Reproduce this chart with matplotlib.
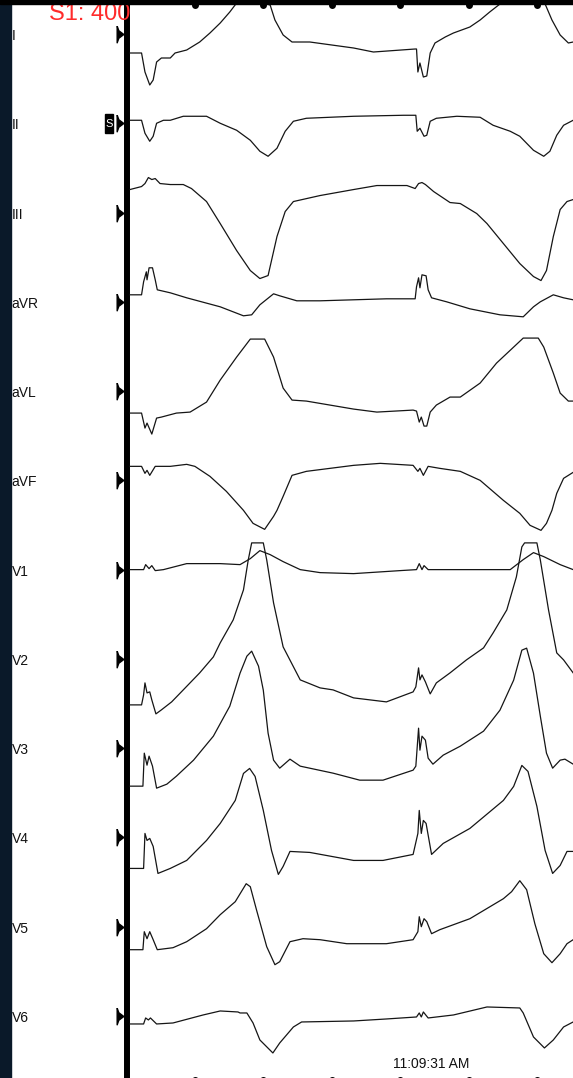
import numpy as np
import matplotlib
matplotlib.use('Agg')
from matplotlib import pyplot as plt
from matplotlib.path import Path
from matplotlib.patches import Rectangle

plt.rcParams['font.family'] = ['Liberation Sans', 'DejaVu Sans']

# 12-lead strip, top to bottom
leads = ['I', 'II', 'III', 'aVR', 'aVL', 'aVF', 'V1', 'V2', 'V3', 'V4', 'V5', 'V6']

# time in ms from sweep start, amplitude in screen units (up = positive)
t_I = [5,22,27,34,39,44,51,64,71,88,107,122,137,151,161,188,205,210,217,229,242,268,332,361,422,424,426,429,434,439,444,451,466,478,502,517,531,546,578,612,622,634,646,653]
a_I = [-19,-19,-38,-51,-46,-28,-24,-24,-19,-16,-8,1,11,22,31,38,30,29,14,-1,-8,-8,-14,-18,-15,-15,-38,-29,-43,-42,-19,-9,-3,1,7,14,22,30,38,30,14,-1,-9,-8]

t_II = [5,22,27,34,39,44,54,64,83,117,137,161,181,195,207,220,232,244,263,332,405,423,425,429,435,439,444,453,483,517,536,561,575,595,610,619,629,639,653]
a_II = [3,3,-10,-18,-13,0,3,3,7,7,0,-7,-17,-28,-33,-25,-8,2,5,7,8,8,-8,-5,-13,-12,2,5,7,6,-2,-8,-13,-27,-33,-28,-12,-2,3]

t_III = [5,22,27,32,37,42,49,64,83,95,117,137,161,181,195,207,220,232,244,283,332,366,410,422,427,432,437,449,473,488,512,527,551,575,595,606,614,624,634,644,653]
a_III = [23,26,29,35,33,34,29,28,28,24,11,-11,-38,-58,-66,-63,-24,1,11,17,23,27,27,24,29,30,28,21,10,9,-1,-11,-31,-51,-64,-68,-58,-24,3,11,13]

t_aVR = [5,22,25,29,30,33,38,42,45,64,88,137,171,183,195,215,224,249,283,380,422,424,427,429,432,438,441,446,468,502,546,580,595,605,624,639,653]
a_aVR = [7,7,20,30,22,34,34,22,12,9,4,-5,-14,-13,-3,8,6,1,1,3,3,15,24,14,27,26,12,4,0,-7,-13,-15,-5,0,7,4,2]

t_aVL = [5,22,27,30,37,44,51,73,93,117,137,161,181,202,215,229,242,263,332,366,419,424,428,431,435,439,444,453,473,488,517,541,566,580,602,610,624,634,646,653]
a_aVL = [-22,-22,-37,-32,-43,-27,-26,-22,-21,-11,11,34,52,52,34,3,-9,-10,-18,-21,-19,-20,-31,-26,-35,-35,-21,-14,-6,-6,8,28,44,53,53,44,18,-2,-10,-10]

t_aVF = [5,22,27,30,34,42,64,88,100,122,146,171,185,202,215,220,229,242,263,332,371,419,426,429,434,441,458,488,517,551,575,590,606,614,622,629,639,653]
a_aVF = [14,14,7,10,5,14,14,16,14,4,-11,-30,-43,-49,-36,-30,-16,5,9,15,17,15,9,12,5,14,12,9,0,-20,-33,-45,-50,-43,-30,-13,2,8]

t_V1 = [5,25,28,33,37,42,54,88,137,166,181,195,210,229,254,283,332,400,424,428,432,435,441,478,561,580,595,610,634,653]
a_V1 = [0,0,5,1,4,-1,0,6,6,5,11,19,15,8,0,-3,-4,-1,0,6,0,4,0,0,0,10,17,13,5,0]

t_V2 = [5,22,25,27,30,34,37,43,51,66,83,107,127,137,156,171,178,183,200,205,215,229,254,283,302,332,380,419,423,427,429,432,437,444,453,473,497,522,536,556,570,578,582,600,605,617,629,639,653]
a_V2 = [-46,-46,-36,-24,-34,-33,-41,-55,-51,-43,-31,-14,2,16,39,69,99,116,116,99,56,12,-21,-29,-31,-39,-43,-33,-28,-9,-21,-16,-23,-35,-24,-14,-1,11,26,49,82,112,116,116,99,49,6,-1,-14]

t_V3 = [5,24,26,30,33,38,44,59,73,98,127,151,166,176,183,193,200,207,215,224,239,254,302,341,375,419,423,427,429,432,437,441,448,463,488,522,546,566,578,585,595,605,614,623,634,641,653]
a_V3 = [-38,-38,-5,-17,-8,-18,-40,-36,-28,-12,12,42,75,92,97,82,58,15,-12,-20,-11,-18,-25,-32,-32,-22,-18,20,-2,12,8,-10,-16,-7,2,17,38,68,98,100,75,32,-5,-20,-12,-11,-16]

t_V4 = [5,25,27,30,34,39,46,64,88,117,137,159,171,180,188,200,212,222,229,239,268,332,375,419,426,428,431,434,438,446,463,502,551,566,578,587,600,612,623,634,644,653]
a_V4 = [-31,-31,4,-3,-1,-9,-36,-31,-23,-3,14,37,64,69,61,27,-13,-37,-29,-14,-15,-23,-23,-17,4,27,4,17,14,-17,-6,9,37,51,72,66,31,-13,-36,-28,-14,-14]

t_V5 = [5,24,26,30,34,39,45,68,88,117,137,159,175,181,190,205,217,224,239,258,283,322,380,419,426,428,431,435,439,446,458,502,551,563,575,585,597,610,622,634,644,653]
a_V5 = [-23,-23,-5,-12,-5,-13,-23,-21,-15,-2,12,25,43,40,17,-20,-38,-35,-15,-12,-13,-17,-17,-13,-5,10,0,8,5,-7,-3,8,28,35,46,37,3,-27,-36,-27,-17,-13]

t_V6 = [5,25,28,32,35,44,68,112,137,163,166,176,185,195,214,224,244,256,332,380,424,428,431,434,441,478,527,575,580,595,611,624,639,653]
a_V6 = [-8,-8,-2,-4,-2,-8,-7,1,5,4,3,3,-7,-24,-37,-27,-11,-6,-5,-3,-1,3,-1,4,-2,1,9,8,3,-21,-32,-24,-11,-6]

traces = {'I': (t_I, a_I), 'II': (t_II, a_II), 'III': (t_III, a_III),
          'aVR': (t_aVR, a_aVR), 'aVL': (t_aVL, a_aVL), 'aVF': (t_aVF, a_aVF),
          'V1': (t_V1, a_V1), 'V2': (t_V2, a_V2), 'V3': (t_V3, a_V3),
          'V4': (t_V4, a_V4), 'V5': (t_V5, a_V5), 'V6': (t_V6, a_V6)}

timing_marks = [100, 200, 300, 400, 500, 600]   # ms
pacing_text = 'S1: 400'
clock_text = '11:09:31 AM'

# screen layout
W, H = 573, 1078
PX_MS = 0.684      # px per ms
X0 = 126.5         # px of the sweep start line
ROW0, ROW_STEP = 34.0, 89.27

def xms(px):
    return (px - X0) / PX_MS

fig = plt.figure(figsize=(W / 100, H / 100), dpi=100)
fig.patch.set_facecolor('white')
ax = fig.add_axes([0, 0, 1, 1])
ax.set_xlim(xms(0), xms(W))
ax.set_ylim(H, 0)
ax.axis('off')

# frame: navy strip on the left, black bar on top
ax.add_patch(Rectangle((xms(0), 0), xms(11) - xms(0), H, color='#0a1929', zorder=6))
ax.add_patch(Rectangle((xms(0), 0), xms(W) - xms(0), 4, color='black', zorder=6))

# sweep start line
ax.axvline(0, color='black', lw=4.3, zorder=2)

# lead marker (flag pointing right)
flag = Path([(-0.4, 1), (-0.2, 0.45), (0.4, 0), (-0.2, -0.45), (-0.4, -1), (-0.4, 1)])

for k, name in enumerate(leads):
    off = ROW0 + k * ROW_STEP
    t, a = traces[name]
    ax.plot(t, off - np.array(a), color='#151515', lw=0.9, zorder=3)
    ax.plot(xms(119.5), off, marker=flag, ms=12, color='black', zorder=3)
    ax.text(xms(11.5), off + 6, name, fontsize=10, va='baseline', ha='left', color='#111111', zorder=4)

# stim channel box on lead II
off2 = ROW0 + ROW_STEP
ax.add_patch(Rectangle((xms(105), off2 - 9), xms(113.3) - xms(105), 18.5, color='black', zorder=4))
ax.text(xms(109.2), off2 + 0.5, 'S', color='white', fontsize=8, ha='center', va='center', zorder=5)

# 100 ms timing dots top and bottom
ax.scatter(timing_marks, [4.5] * len(timing_marks), s=25, color='black', zorder=7, linewidths=0)
ax.scatter(timing_marks, [H + 1.5] * len(timing_marks), s=25, color='black', zorder=7, linewidths=0)

ax.text(xms(49), 20, pacing_text, color='#ff2b2b', fontsize=17, va='baseline', ha='left', zorder=5)
ax.text(xms(393), 1068, clock_text, color='#111111', fontsize=10, va='baseline', ha='left', zorder=4)

fig.savefig('out.png', dpi=100, facecolor='white')
